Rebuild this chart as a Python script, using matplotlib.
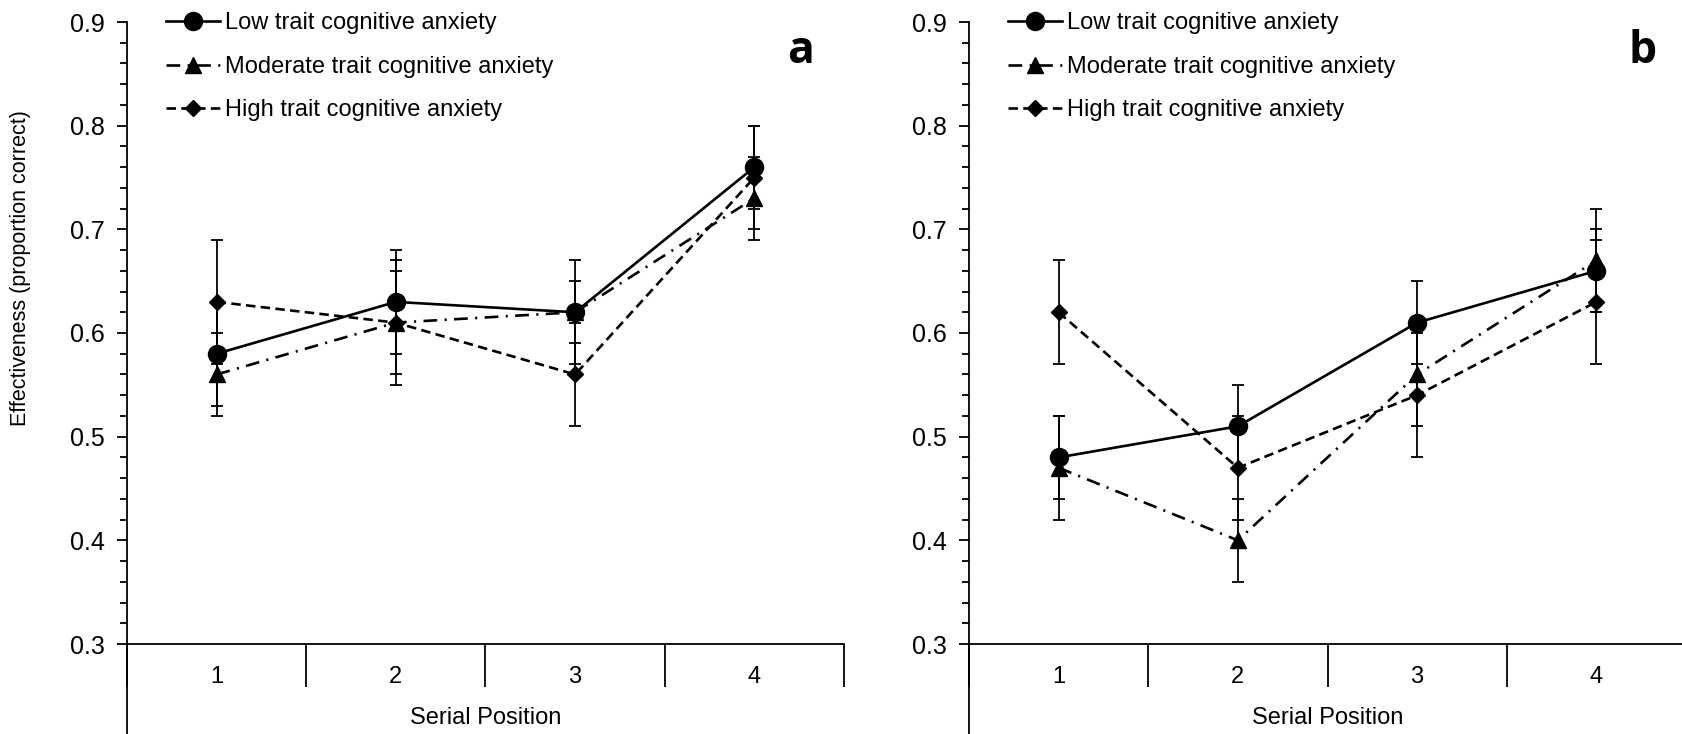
import matplotlib
matplotlib.use("Agg")
import matplotlib.pyplot as plt
from matplotlib.ticker import MultipleLocator, FixedLocator
from matplotlib import font_manager

# serial positions and group names
positions = [1, 2, 3, 4]
groups = ["Low trait cognitive anxiety",
          "Moderate trait cognitive anxiety",
          "High trait cognitive anxiety"]

# panel a: means and error bars
a_low = [0.58, 0.63, 0.62, 0.76]
a_mod = [0.56, 0.61, 0.62, 0.73]
a_high = [0.63, 0.61, 0.56, 0.75]
a_low_err = [0.05, 0.05, 0.05, 0.04]
a_mod_err = [0.04, 0.06, 0.03, 0.04]
a_high_err = [0.06, 0.05, 0.05, 0.05]

# panel b: means and error bars
b_low = [0.48, 0.51, 0.61, 0.66]
b_mod = [0.47, 0.40, 0.56, 0.67]
b_high = [0.62, 0.47, 0.54, 0.63]
b_low_err = [0.04, 0.04, 0.04, 0.04]
b_mod_err = [0.05, 0.04, 0.05, 0.05]
b_high_err = [0.05, 0.05, 0.06, 0.06]

names = {f.name for f in font_manager.fontManager.ttflist}
narrow = "Liberation Sans Narrow" if "Liberation Sans Narrow" in names else "Liberation Sans"
regular = "Liberation Sans"

plt.rcParams["font.family"] = narrow

styles = [
    dict(marker="o", ms=13, ls="-"),
    dict(marker="^", ms=11.5, ls=(0, (5.2, 2.8, 0.8, 2.8))),
    dict(marker="D", ms=8.5, ls=(0, (3.6, 2.0))),
]

fig = plt.figure(figsize=(16.82, 7.34), dpi=100)


def draw_panel(ax, series, errors, letter, ytick_font):
    for vals, errs, st, name in zip(series, errors, styles, groups):
        ax.errorbar(positions, vals, yerr=errs, fmt="none", ecolor="black",
                    elinewidth=1.3, capsize=4.5, capthick=1.3, zorder=2)
        ax.plot(positions, vals, color="black", lw=1.9, marker=st["marker"],
                ms=st["ms"], ls=st["ls"], label=name, zorder=3)

    ax.set_xlim(0.5, 4.5)
    ax.set_ylim(0.3, 0.9)
    ax.spines["top"].set_visible(False)
    ax.spines["right"].set_visible(False)
    for s in ["left", "bottom"]:
        ax.spines[s].set_linewidth(1.3)
    # left axis line continues down past the category labels
    ax.plot([0, 0], [0, -0.2], transform=ax.transAxes, color="black",
            lw=1.3, clip_on=False)

    ax.yaxis.set_major_locator(MultipleLocator(0.1))
    ax.yaxis.set_minor_locator(MultipleLocator(0.02))
    ax.yaxis.set_major_formatter(plt.FormatStrFormatter("%.1f"))
    ax.tick_params(axis="y", which="major", direction="out", length=7,
                   width=1.3, pad=9, labelsize=18)
    ax.tick_params(axis="y", which="minor", direction="out", length=5, width=1.3)
    for lab in ax.get_yticklabels():
        lab.set_family(ytick_font)

    # category dividers as long ticks, labels in between
    ax.xaxis.set_major_locator(FixedLocator([0.5, 1.5, 2.5, 3.5, 4.5]))
    ax.xaxis.set_minor_locator(FixedLocator(positions))
    ax.set_xticklabels([])
    ax.set_xticklabels([str(p) for p in positions], minor=True)
    ax.tick_params(axis="x", which="major", direction="out", length=31, width=1.3)
    ax.tick_params(axis="x", which="minor", length=0, pad=16, labelsize=17)
    ax.set_xlabel("Serial Position", fontsize=17)
    ax.xaxis.set_label_coords(0.5, -0.102)

    ax.text(0.94, 0.953, letter, transform=ax.transAxes, fontsize=32,
            fontweight="bold", family="Open Sans", ha="center", va="center")

    ax.legend(loc="upper left", bbox_to_anchor=(0.054, 1.016), frameon=False,
              fontsize=17, handlelength=2.3, handletextpad=0.2,
              labelspacing=0.92, borderpad=0, borderaxespad=0)


ax_a = fig.add_axes([127 / 1682, 90 / 734, 717 / 1682, 622 / 734])
draw_panel(ax_a, [a_low, a_mod, a_high], [a_low_err, a_mod_err, a_high_err],
           "a", regular)

ax_b = fig.add_axes([969 / 1682, 90 / 734, 717 / 1682, 622 / 734])
draw_panel(ax_b, [b_low, b_mod, b_high], [b_low_err, b_mod_err, b_high_err],
           "b", narrow)

fig.text(21 / 1682, 1 - 268 / 734, "Effectiveness (proportion correct)",
         rotation=90, ha="center", va="center", fontsize=15.5, family=regular)

fig.savefig("out.png", dpi=100)
